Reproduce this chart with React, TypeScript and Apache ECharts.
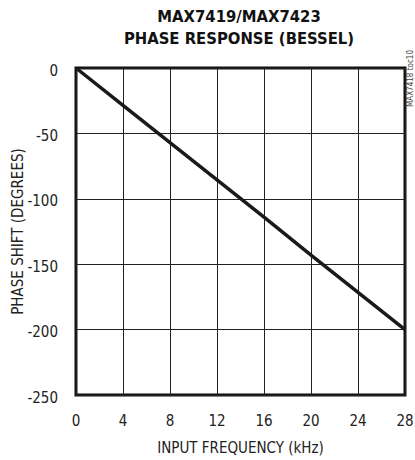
import React, { useEffect, useRef } from "react";
import * as echarts from "echarts";

const frequencyKHz = [0, 4, 8, 12, 16, 20, 24, 28];
const phaseDeg = [0, -28.5, -57, -85.5, -114, -143, -171.5, -200];
const titleLines = ["MAX7419/MAX7423", "PHASE RESPONSE (BESSEL)"];
const xTitle = "INPUT FREQUENCY (kHz)";
const yTitle = "PHASE SHIFT (DEGREES)";
const sideTag = "MAX7418 toc10";

const FONT = "'DejaVu Sans Condensed', 'Liberation Sans', Arial, sans-serif";

export default function App() {
  const ref = useRef<HTMLDivElement>(null);
  useEffect(() => {
    if (!ref.current) return;
    const chart = echarts.init(ref.current, undefined, { renderer: "svg" });
    chart.setOption({
      animation: false,
      backgroundColor: "#ffffff",
      title: {
        text: titleLines.join("\n"),
        left: 234,
        top: 0,
        textAlign: "center",
        textStyle: {
          fontFamily: FONT,
          fontWeight: "bold",
          fontSize: 16.5,
          lineHeight: 22,
          color: "#111",
        },
      },
      graphic: [
        {
          type: "text",
          x: 406,
          y: 107,
          rotation: Math.PI / 2,
          style: {
            text: sideTag,
            fontFamily: FONT,
            fontSize: 8,
            fill: "#444",
          },
        },
      ],
      grid: {
        left: 76,
        right: 10,
        top: 68,
        bottom: 65,
        outerBoundsMode: "none",
        show: true,
        borderColor: "#111",
        borderWidth: 3,
        backgroundColor: "transparent",
      },
      xAxis: {
        type: "value",
        min: 0,
        max: 28,
        interval: 4,
        name: xTitle,
        nameLocation: "middle",
        nameGap: 45,
        nameMoveOverlap: false,
        nameTextStyle: { fontFamily: FONT, fontSize: 15, color: "#222" },
        axisLine: { show: false },
        axisTick: { show: false },
        axisLabel: { fontFamily: FONT, fontSize: 15, color: "#222", margin: 18 },
        splitLine: { show: true, lineStyle: { color: "#222", width: 1 } },
      },
      yAxis: {
        type: "value",
        min: -250,
        max: 0,
        interval: 50,
        name: yTitle,
        nameLocation: "middle",
        nameGap: 51,
        nameMoveOverlap: false,
        nameTextStyle: { fontFamily: FONT, fontSize: 15, color: "#222" },
        axisLine: { show: false },
        axisTick: { show: false },
        axisLabel: { fontFamily: FONT, fontSize: 15, color: "#222", margin: 18, verticalAlign: "top", padding: [-5, 0, 0, 0] },
        splitLine: { show: true, lineStyle: { color: "#222", width: 1 } },
      },
      series: [
        {
          type: "line",
          data: frequencyKHz.map((f, i) => [f, phaseDeg[i]]),
          showSymbol: false,
          lineStyle: { color: "#1a1a1a", width: 3.5 },
        },
      ],
    });
    return () => chart.dispose();
  }, []);
  return (
    <div
      ref={ref}
      style={{ position: "fixed", left: 0, top: 0, width: 415, height: 460 }}
    />
  );
}
